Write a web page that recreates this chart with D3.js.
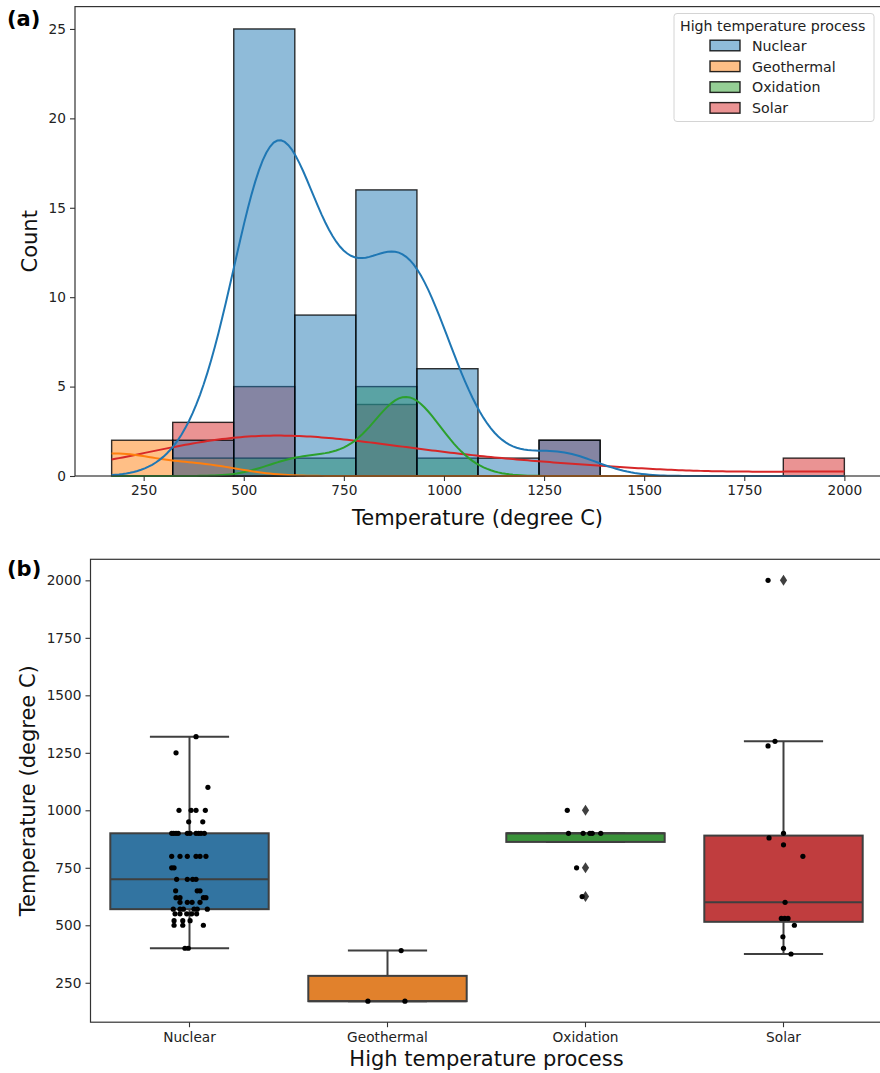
<!DOCTYPE html>
<html>
<head>
<meta charset="utf-8">
<script src="https://cdn.jsdelivr.net/npm/d3@7"></script>
<style>
  body { margin: 0; background: #fff; }
  svg { display: block; font-family: "DejaVu Sans", sans-serif; }
</style>
</head>
<body>
<svg id="chart" width="880" height="1073"></svg>
<script>
// categories (hue order)
var processes = ["Nuclear", "Geothermal", "Oxidation", "Solar"];

// temperatures (degree C) per process
var nuclearTemps = [1320, 1250, 1100, 1000, 1000, 1000, 1000, 950, 950,
  900, 900, 900, 900, 900, 900, 900, 900, 900, 900,
  800, 800, 800, 800, 800, 800, 750, 750, 700, 700, 700, 700,
  650, 650, 650, 620, 620, 620, 620, 600, 600, 600, 600,
  570, 570, 570, 570, 570, 570, 550, 550, 550, 550, 550,
  520, 520, 520, 500, 500, 500, 400, 400];
var geothermalTemps = [170, 170, 390];
var oxidationTemps = [1000, 900, 900, 900, 900, 900, 750, 625];
var solarTemps = [2000, 1300, 1280, 900, 880, 850, 800, 600, 530, 530, 530, 500, 450, 400, 375];

// strip-plot jitter (category units), same order as the temps above
var nuclearJitter = [0.033, -0.068, 0.093, -0.053, 0.008, 0.033, 0.080, -0.004, 0.067,
  -0.090, -0.080, -0.068, -0.057, -0.011, 0.003, 0.033, 0.046, 0.058, 0.075,
  -0.090, -0.048, -0.011, 0.033, 0.053, 0.083, -0.090, -0.078, -0.065, -0.011, 0.016, 0.033,
  -0.070, 0.039, 0.053, -0.068, -0.048, 0.070, 0.083, -0.048, -0.011, 0.013, 0.053,
  -0.082, -0.048, -0.031, 0.023, 0.039, 0.090, -0.073, -0.048, -0.014, 0.011, 0.036,
  -0.078, -0.034, 0.003, -0.078, -0.034, 0.070, -0.023, -0.006];
var geothermalJitter = [-0.099, 0.088, 0.069];
var oxidationJitter = [-0.092, -0.086, -0.012, 0.022, 0.034, 0.077, -0.045, -0.017];
var solarJitter = [-0.078, -0.043, -0.078, 0, -0.073, 0, 0.098, 0.008, -0.011, 0.006, 0.023, 0.055, -0.003, 0, 0.038];

// tick labels
var countTicks = [0, 5, 10, 15, 20, 25];
var tempTicks = [250, 500, 750, 1000, 1250, 1500, 1750, 2000];
var nBins = 12;

var lineColors = ["#1f77b4", "#ff7f0e", "#2ca02c", "#d62728"];
var boxColors = ["#3274a1", "#e1812c", "#3a923a", "#c03d3e"];
var boxLine = "#3f3f3f";

var groups = processes.map(function (p, i) {
  return {
    name: p,
    temps: [nuclearTemps, geothermalTemps, oxidationTemps, solarTemps][i],
    jitter: [nuclearJitter, geothermalJitter, oxidationJitter, solarJitter][i],
    color: lineColors[i],
    boxColor: boxColors[i]
  };
});

var svg = d3.select("#chart");
var allTemps = d3.merge(groups.map(function (g) { return g.temps; }));
var tMin = d3.min(allTemps), tMax = d3.max(allTemps);
var pad = (tMax - tMin) * 0.05;

// ---------------- (a) histogram + kde ----------------
var binWidth = (tMax - tMin) / nBins;
var edges = d3.range(nBins + 1).map(function (i) { return tMin + i * binWidth; });
var binner = d3.bin().domain([tMin, tMax]).thresholds(edges.slice(1, -1));
groups.forEach(function (g) { g.bins = binner(g.temps); });
var maxCount = d3.max(groups, function (g) { return d3.max(g.bins, function (b) { return b.length; }); });

var xA = d3.scaleLinear().domain([tMin - pad, tMax + pad]).range([75, 881]);
var yA = d3.scaleLinear().domain([0, maxCount * 1.05]).range([476, 6.6]);

var gA = svg.append("g");

// bars: seaborn layers the last hue first
groups.slice().reverse().forEach(function (g) {
  gA.selectAll(null)
    .data(g.bins.filter(function (b) { return b.length > 0; }))
    .enter()
    .append("rect")
    .attr("x", function (b) { return xA(b.x0); })
    .attr("width", function (b) { return xA(b.x1) - xA(b.x0); })
    .attr("y", function (b) { return yA(b.length); })
    .attr("height", function (b) { return yA(0) - yA(b.length); })
    .attr("fill", g.color)
    .attr("fill-opacity", 0.5)
    .attr("stroke", "#000")
    .attr("stroke-opacity", 0.8)
    .attr("stroke-width", 1.4);
});

// kde, scaled to counts (n * binwidth * pdf), scott bandwidth, common grid
function kdeCurve(values, grid) {
  var bw = d3.deviation(values) * Math.pow(values.length, -0.2);
  return grid.map(function (t) {
    var s = d3.sum(values, function (v) { var z = (t - v) / bw; return Math.exp(-0.5 * z * z); });
    return [t, s / (bw * Math.sqrt(2 * Math.PI)) * binWidth];
  });
}
var grid = d3.range(200).map(function (i) { return tMin + i * (tMax - tMin) / 199; });
var line = d3.line().x(function (d) { return xA(d[0]); }).y(function (d) { return yA(d[1]); });

groups.slice().reverse().forEach(function (g) {
  gA.append("path")
    .attr("d", line(kdeCurve(g.temps, grid)))
    .attr("fill", "none")
    .attr("stroke", g.color)
    .attr("stroke-width", 2);
});

// axes (a)
var axA_x = gA.append("g").attr("transform", "translate(0," + yA(0) + ")")
  .call(d3.axisBottom(xA).tickValues(tempTicks).tickSize(5).tickPadding(4).tickFormat(d3.format("d")));
var axA_y = gA.append("g").attr("transform", "translate(" + xA.range()[0] + ",0)")
  .call(d3.axisLeft(yA).tickValues(countTicks).tickSize(5).tickPadding(4));
[axA_x, axA_y].forEach(function (a) {
  a.select(".domain").remove();
  a.selectAll("line").attr("stroke", "#333").attr("stroke-width", 1.1);
  a.selectAll("text").attr("font-size", 13.7).attr("fill", "#222").attr("font-family", "DejaVu Sans");
});
gA.append("rect")
  .attr("x", xA.range()[0]).attr("y", yA.range()[1])
  .attr("width", xA.range()[1] - xA.range()[0]).attr("height", yA.range()[0] - yA.range()[1])
  .attr("fill", "none").attr("stroke", "#333").attr("stroke-width", 1.2);

gA.append("text").attr("x", (75 + 880) / 2).attr("y", 525)
  .attr("text-anchor", "middle").attr("font-size", 21).attr("fill", "#111")
  .text("Temperature (degree C)");
gA.append("text").attr("transform", "translate(37," + (yA.range()[0] + yA.range()[1]) / 2 + ") rotate(-90)")
  .attr("text-anchor", "middle").attr("font-size", 21).attr("fill", "#111")
  .text("Count");
gA.append("text").attr("x", 7).attr("y", 26)
  .attr("font-size", 21).attr("font-weight", "bold").attr("fill", "#000").text("(a)");

// legend
var leg = gA.append("g");
leg.append("rect").attr("x", 674).attr("y", 13.5).attr("width", 200).attr("height", 108)
  .attr("rx", 3).attr("fill", "#fff").attr("fill-opacity", 0.8)
  .attr("stroke", "#d4d4d4").attr("stroke-width", 1);
leg.append("text").attr("x", 680).attr("y", 31).attr("font-size", 14.2).attr("fill", "#222")
  .text("High temperature process");
var legItems = leg.selectAll("g.item").data(groups).enter().append("g")
  .attr("class", "item")
  .attr("transform", function (d, i) { return "translate(0," + (45.5 + i * 20.8) + ")"; });
legItems.append("rect").attr("x", 710).attr("y", -5.3).attr("width", 30).attr("height", 10.6)
  .attr("fill", function (d) { return d.color; }).attr("fill-opacity", 0.5)
  .attr("stroke", "#000").attr("stroke-opacity", 0.85).attr("stroke-width", 1.4);
legItems.append("text").attr("x", 752).attr("y", 5.2).attr("font-size", 14.2).attr("fill", "#222")
  .text(function (d) { return d.name; });

// ---------------- (b) box + strip ----------------
var xB = d3.scaleBand().domain(processes).range([90.5, 882.5]);
var yB = d3.scaleLinear().domain([tMin - pad, tMax + pad]).range([1022.2, 559.3]);
var step = xB.bandwidth();
var boxW = step * 0.8;

var gB = svg.append("g");

groups.forEach(function (g) {
  var s = g.temps.slice().sort(d3.ascending);
  var q1 = d3.quantile(s, 0.25), med = d3.quantile(s, 0.5), q3 = d3.quantile(s, 0.75);
  var iqr = q3 - q1;
  var inHi = s.filter(function (v) { return v <= q3 + 1.5 * iqr; });
  var inLo = s.filter(function (v) { return v >= q1 - 1.5 * iqr; });
  var whiHi = (inHi.length && d3.max(inHi) >= q3) ? d3.max(inHi) : q3;
  var whiLo = (inLo.length && d3.min(inLo) <= q1) ? d3.min(inLo) : q1;
  var fliers = s.filter(function (v) { return v > whiHi || v < whiLo; });
  var cx = xB(g.name) + step / 2;

  var bg = gB.append("g");
  bg.append("line").attr("x1", cx).attr("x2", cx).attr("y1", yB(q3)).attr("y2", yB(whiHi))
    .attr("stroke", boxLine).attr("stroke-width", 2);
  bg.append("line").attr("x1", cx).attr("x2", cx).attr("y1", yB(q1)).attr("y2", yB(whiLo))
    .attr("stroke", boxLine).attr("stroke-width", 2);
  [whiHi, whiLo].forEach(function (w) {
    bg.append("line").attr("x1", cx - boxW / 4).attr("x2", cx + boxW / 4)
      .attr("y1", yB(w)).attr("y2", yB(w)).attr("stroke", boxLine).attr("stroke-width", 2);
  });
  bg.append("rect").attr("x", cx - boxW / 2).attr("width", boxW)
    .attr("y", yB(q3)).attr("height", Math.max(yB(q1) - yB(q3), 0))
    .attr("fill", g.boxColor).attr("stroke", boxLine).attr("stroke-width", 2);
  bg.append("line").attr("x1", cx - boxW / 2).attr("x2", cx + boxW / 2)
    .attr("y1", yB(med)).attr("y2", yB(med)).attr("stroke", boxLine).attr("stroke-width", 2);
  bg.selectAll("path.flier").data(fliers).enter().append("path")
    .attr("class", "flier")
    .attr("d", function (v) {
      var y = yB(v);
      return "M" + cx + "," + (y - 5.5) + "L" + (cx + 3.6) + "," + y + "L" + cx + "," + (y + 5.5) + "L" + (cx - 3.6) + "," + y + "Z";
    })
    .attr("fill", boxLine);

  g.cx = cx;
});

// strip points on top
groups.forEach(function (g) {
  gB.selectAll(null).data(g.temps).enter().append("circle")
    .attr("cx", function (v, i) { return g.cx + g.jitter[i] * step; })
    .attr("cy", function (v) { return yB(v); })
    .attr("r", 2.6)
    .attr("fill", "#000");
});

// axes (b)
var axB_x = gB.append("g").attr("transform", "translate(0," + yB.range()[0] + ")")
  .call(d3.axisBottom(xB).tickSize(5).tickPadding(5));
var axB_y = gB.append("g").attr("transform", "translate(" + xB.range()[0] + ",0)")
  .call(d3.axisLeft(yB).tickValues(tempTicks).tickSize(5).tickPadding(4).tickFormat(d3.format("d")));
[axB_x, axB_y].forEach(function (a) {
  a.select(".domain").remove();
  a.selectAll("line").attr("stroke", "#333").attr("stroke-width", 1.1);
  a.selectAll("text").attr("font-size", 13.7).attr("fill", "#222").attr("font-family", "DejaVu Sans");
});
gB.append("rect")
  .attr("x", xB.range()[0]).attr("y", yB.range()[1])
  .attr("width", xB.range()[1] - xB.range()[0]).attr("height", yB.range()[0] - yB.range()[1])
  .attr("fill", "none").attr("stroke", "#333").attr("stroke-width", 1.2);

gB.append("text").attr("x", (90.5 + 882.5) / 2).attr("y", 1066)
  .attr("text-anchor", "middle").attr("font-size", 21).attr("fill", "#111")
  .text("High temperature process");
gB.append("text").attr("transform", "translate(35," + (yB.range()[0] + yB.range()[1]) / 2 + ") rotate(-90)")
  .attr("text-anchor", "middle").attr("font-size", 21).attr("fill", "#111")
  .text("Temperature (degree C)");
gB.append("text").attr("x", 7).attr("y", 576)
  .attr("font-size", 21).attr("font-weight", "bold").attr("fill", "#000").text("(b)");
</script>
</body>
</html>
